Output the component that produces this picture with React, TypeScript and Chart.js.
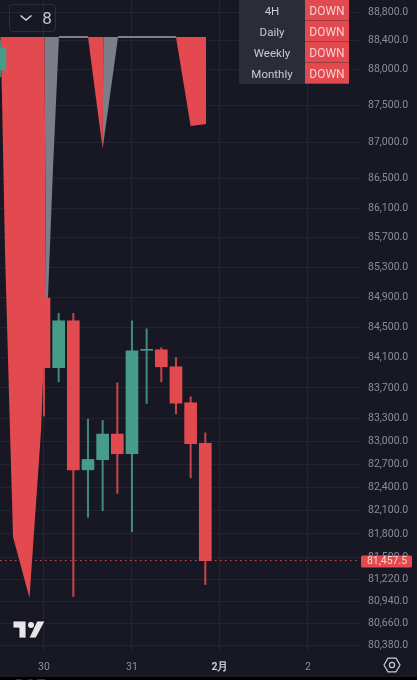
import React, { useEffect, useRef } from "react";
import { Chart, registerables } from "chart.js";

Chart.register(...registerables);

const FONT = "Roboto, 'Noto Sans', sans-serif";
const BG = "#171823";
const RED = "#e34a50";
const GREEN = "#479b89";
const GREY = "#7c7e8a";
const GRID = "#22242f";

const priceTicks = [88800, 88400, 88000, 87500, 87000, 86500, 86100, 85700, 85300, 84900, 84500, 84100, 83700, 83300, 83000, 82700, 82400, 82100, 81800, 81500, 81220, 80940, 80660, 80380];
const timeTicks = [0, 6, 12, 18];
const timeLabels = ["30", "31", "2月", "2"];

const candleIndex = [-3, 0, 1, 2, 3, 4, 5, 6, 7, 8, 9, 10, 11];
const candleOpen = [87994, 84893, 83967, 84589, 82629, 82760, 83095, 82838, 84197, 84204, 83979, 83505, 82973];
const candleClose = [88298, 83967, 84589, 82629, 82764, 83095, 82838, 84191, 84210, 83979, 83500, 82969, 81457.5];
const candleHigh = [88400, 85000, 84689, 84689, 83291, 83274, 83768, 84589, 84483, 84231, 84103, 83584, 83111];
const candleLow = [87900, 83330, 83781, 81000, 82013, 82098, 82323, 81827, 83497, 83781, 83360, 82525, 81150];

const lastPrice = 81457.5;
const topLevel = 88451;

const bigRedX = [-3, 0.03, 0.14, -0.2, -0.99, -2.11, -2.32, -2.66, -2.86, -2.97];
const bigRedY = [topLevel, topLevel, 84893, 83148, 80978, 81759, 83148, 85536, 87579, topLevel];
const bigGreyX = [0.03, 1.02, 0.61, 0.27, 0.14];
const bigGreyY = [topLevel, topLevel, 86620, 84893, 84893];
const midRedX = [3, 4.05, 4];
const midRedY = [topLevel, topLevel, 86906];
const midGreyX = [4.05, 5.05, 4];
const midGreyY = [topLevel, topLevel, 86906];
const rightRedX = [9, 11.05, 11.05, 10];
const rightRedY = [topLevel, topLevel, 87249, 87221];
const greyLineX = [1.02, 3, 3, 5.05, 9];
const greyLineY: (number | null)[] = [topLevel, topLevel, null, topLevel, topLevel];

const tableRows = ["4H", "Daily", "Weekly", "Monthly"];
const tableValues = ["DOWN", "DOWN", "DOWN", "DOWN"];

const zip = (xs: number[], ys: (number | null)[]) => xs.map((x, i) => ({ x, y: ys[i] }));

const polygon = (xs: number[], ys: number[], color: string) => ({
  type: "line",
  data: zip(xs, ys),
  backgroundColor: color,
  borderColor: color,
  borderWidth: 0,
  pointRadius: 0,
  fill: "shape",
  tension: 0,
  order: 5,
});

const candleColors = candleIndex.map((_, i) => (candleClose[i] >= candleOpen[i] ? GREEN : RED));
const wickColors = candleIndex.map((_, i) => (candleClose[i] >= candleOpen[i] ? "rgba(71,155,137,0.85)" : "rgba(227,74,80,0.85)"));

const priceLabelPlugin = {
  id: "priceLabel",
  afterDraw(chart: any) {
    const { ctx, scales } = chart;
    const y = scales.y.getPixelForValue(lastPrice);
    ctx.save();
    ctx.fillStyle = RED;
    ctx.beginPath();
    ctx.roundRect(361, y - 5, 51, 12, 1.5);
    ctx.fill();
    ctx.fillStyle = "#f7d3d5";
    ctx.font = `10.5px ${FONT}`;
    ctx.textAlign = "center";
    ctx.textBaseline = "middle";
    ctx.fillText(lastPrice.toLocaleString("en-US", { minimumFractionDigits: 1 }), 387, y + 1);
    ctx.restore();
  },
};

export default function App() {
  const ref = useRef<HTMLCanvasElement>(null);
  useEffect(() => {
    const chart = new Chart(ref.current as HTMLCanvasElement, {
      type: "bar",
      plugins: [priceLabelPlugin],
      data: {
        datasets: [
          {
            data: candleIndex.map((x, i) => ({ x, y: [Math.min(candleOpen[i], candleClose[i]), Math.max(candleOpen[i], candleClose[i])] })),
            backgroundColor: candleColors,
            barThickness: 12,
            grouped: false,
            borderWidth: 0,
            order: 1,
          },
          {
            data: candleIndex.map((x, i) => ({ x, y: [candleLow[i], candleHigh[i]] })),
            backgroundColor: wickColors,
            barThickness: 1.4,
            grouped: false,
            borderWidth: 0,
            order: 2,
          },
          {
            type: "line",
            data: [{ x: -3, y: lastPrice }, { x: 21.55, y: lastPrice }],
            borderColor: RED,
            borderWidth: 1,
            borderDash: [1.5, 3.5],
            pointRadius: 0,
            order: 4,
          },
          {
            type: "line",
            data: zip(greyLineX, greyLineY),
            borderColor: GREY,
            borderWidth: 2,
            pointRadius: 0,
            spanGaps: false,
            order: 6,
          },
          polygon(bigRedX, bigRedY, RED),
          polygon(bigGreyX, bigGreyY, GREY),
          polygon(midRedX, midRedY, RED),
          polygon(midGreyX, midGreyY, GREY),
          polygon(rightRedX, rightRedY, RED),
        ] as any,
      },
      options: {
        animation: false,
        responsive: false,
        maintainAspectRatio: false,
        layout: { padding: 0 },
        plugins: { legend: { display: false }, tooltip: { enabled: false } },
        scales: {
          x: {
            type: "linear",
            offset: false,
            min: -3,
            max: 21.55,
            bounds: "data",
            border: { display: false },
            grid: { color: GRID, lineWidth: 1, drawTicks: false, offset: false },
            afterBuildTicks: (s: any) => {
              s.ticks = timeTicks.map((value) => ({ value }));
            },
            afterFit: (s: any) => {
              s.height = 25;
              s.paddingLeft = 0;
              s.paddingRight = 0;
            },
            ticks: {
              autoSkip: false,
              maxRotation: 0,
              padding: 9,
              color: (c: any) => (c.tick?.value === 12 ? "#c9cad2" : "#8a8c98"),
              font: (c: any) => ({ family: FONT, size: 10.5, weight: c.tick?.value === 12 ? "bold" : "normal" }),
              callback: (v: any) => timeLabels[timeTicks.indexOf(v)] ?? "",
            },
          },
          y: {
            type: "logarithmic",
            position: "right",
            min: 80294,
            max: 88968,
            bounds: "data",
            border: { display: false },
            grid: { color: GRID, lineWidth: 1, drawTicks: false },
            afterBuildTicks: (s: any) => {
              s.ticks = priceTicks.map((value) => ({ value }));
            },
            afterFit: (s: any) => {
              s.width = 57;
              s.paddingTop = 0;
              s.paddingBottom = 0;
            },
            ticks: {
              autoSkip: false,
              crossAlign: "near",
              padding: 8,
              color: "#8a8c98",
              font: { family: FONT, size: 10.5 },
              callback: (v: any) => Number(v).toLocaleString("en-US", { minimumFractionDigits: 1 }),
            },
          },
        },
      } as any,
    });
    return () => chart.destroy();
  }, []);

  return (
    <div style={{ position: "fixed", left: 0, top: 0, width: 417, height: 680, background: "#000", overflow: "hidden", fontFamily: FONT }}>
      <canvas ref={ref} width={417} height={677} style={{ display: "block", position: "absolute", left: 0, top: 0, width: 417, height: 677, background: BG }} />

      <div style={{ position: "absolute", left: 9, top: 4, width: 47, height: 28, border: "1px solid #2c2e39", borderRadius: 4, boxSizing: "border-box" }} />
      <svg style={{ position: "absolute", left: 0, top: 0 }} width={60} height={36}>
        <path d="M20.5 15.5 L26 20 L31.5 15.5" fill="none" stroke="#d5d6dc" strokeWidth={1.5} />
      </svg>
      <div style={{ position: "absolute", left: 41, top: 8, width: 12, fontSize: 17, lineHeight: "20px", color: "#c5c6cd", textAlign: "center" }}>8</div>

      <div style={{ position: "absolute", left: 239, top: 0, width: 110, height: 84 }}>
        {tableRows.map((row, i) => (
          <div key={row} style={{ display: "flex", height: 21, fontSize: 11, lineHeight: "23px", textAlign: "center" }}>
            <div style={{ width: 66, height: 21, background: "#2a2c37", color: "#c9cad2", fontSize: 11.5 }}>{row}</div>
            <div style={{ width: 44, height: 21, background: RED, color: "#f7cfd1", boxSizing: "border-box", borderBottom: "1px solid #9c3a40", fontSize: 12 }}>{tableValues[i]}</div>
          </div>
        ))}
      </div>

      <svg style={{ position: "absolute", left: 8, top: 616 }} width={42} height={26}>
        <path d="M5 5 H18 V22 H11 V12 H5 Z M37 5 L28 22 H21 L29 5 Z" fill="#e6e6e8" stroke="#0c0c12" strokeWidth={0.8} />
        <circle cx={23} cy={9} r={3} fill="#e6e6e8" />
      </svg>

      <svg style={{ position: "absolute", left: 382, top: 655 }} width={20} height={20}>
        <path d="M2 10 L6 3.2 H14 L18 10 L14 16.8 H6 Z" fill="none" stroke="#c9cad2" strokeWidth={1.2} />
        <circle cx={10} cy={10} r={2.6} fill="none" stroke="#c9cad2" strokeWidth={1.2} />
      </svg>

      <div style={{ position: "absolute", left: 15, top: 676, fontSize: 15, lineHeight: "18px", color: "#333", letterSpacing: 1 }}>BOT</div>
    </div>
  );
}
